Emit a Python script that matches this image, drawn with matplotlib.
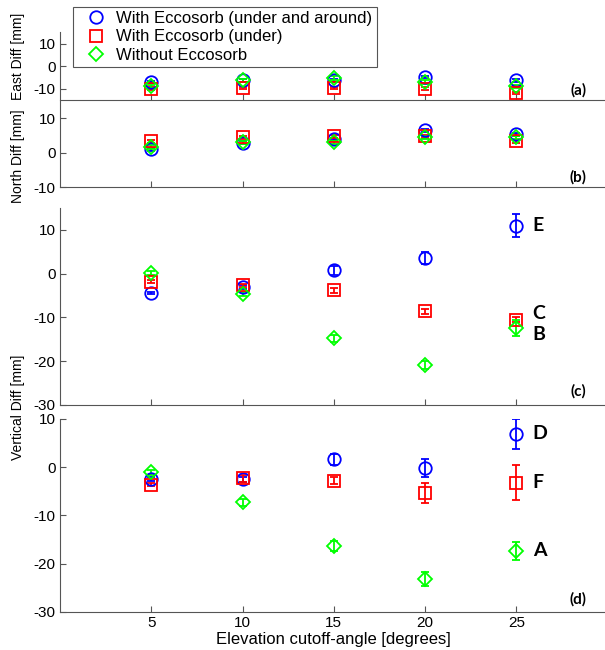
import matplotlib
matplotlib.use('Agg')
import matplotlib.pyplot as plt
from matplotlib.lines import Line2D

plt.rcParams.update({'font.family': ['Liberation Sans', 'DejaVu Sans'], 'font.size': 11,
                     'axes.unicode_minus': False})

# data
angles = [5, 10, 15, 20, 25]
series_names = ['With Eccosorb (under and around)', 'With Eccosorb (under)', 'Without Eccosorb']

east_around = [-7.0, -6.3, -6.3, -4.9, -6.3]
east_under = [-9.9, -9.5, -9.5, -9.9, -11.8]
east_none = [-8.9, -6.3, -5.2, -7.0, -8.9]
east_err_around = [0.5, 0.5, 0.5, 0.5, 0.5]
east_err_under = [0.5, 0.5, 0.5, 0.5, 0.5]
east_err_none = [0.8, 0.8, 0.8, 0.8, 0.8]

north_around = [1.0, 2.9, 4.0, 6.5, 5.4]
north_under = [3.3, 4.5, 4.8, 4.8, 3.3]
north_none = [1.6, 3.0, 3.0, 4.5, 4.5]
north_err_around = [0.4, 0.4, 0.4, 0.4, 0.4]
north_err_under = [0.4, 0.4, 0.4, 0.4, 0.4]
north_err_none = [0.5, 0.5, 0.5, 0.5, 0.5]

vert_c_around = [-4.4, -3.1, 0.8, 3.5, 11.0]
vert_c_under = [-1.8, -2.7, -3.8, -8.6, -10.5]
vert_c_none = [0.15, -4.6, -14.8, -20.9, -12.5]
vert_c_err_around = [0.3, 0.4, 1.0, 1.4, 2.65]
vert_c_err_under = [0.4, 0.4, 0.6, 0.6, 0.6]
vert_c_err_none = [0.5, 0.5, 0.8, 1.0, 1.8]

vert_d_around = [-2.5, -2.5, 1.6, -0.1, 6.9]
vert_d_under = [-3.6, -2.3, -2.8, -5.3, -3.2]
vert_d_none = [-1.1, -7.3, -16.3, -23.2, -17.3]
vert_d_err_around = [0.4, 0.5, 1.15, 1.9, 3.15]
vert_d_err_under = [0.4, 0.7, 0.7, 2.1, 3.6]
vert_d_err_none = [0.5, 0.8, 1.0, 1.5, 1.9]

letters_c = [('E', 10.9), ('C', -9.2), ('B', -14.0)]
letters_d = [('D', 6.9), ('F', -3.2), ('A', -17.3)]

colors = ['#0000ff', '#ff0000', '#00ff00']
markers = ['o', 's', 'D']
msizes = [9, 8, 7.5]

fig = plt.figure(figsize=(6.05, 6.5), dpi=100)
W = 0.905
ax_a = fig.add_axes([0.0992, 0.846, W, 0.104])
ax_b = fig.add_axes([0.0992, 0.7123, W, 0.132])
ax_c = fig.add_axes([0.0992, 0.377, W, 0.303])
ax_d = fig.add_axes([0.0992, 0.0585, W, 0.297])

panels = [
    (ax_a, [east_around, east_under, east_none], [east_err_around, east_err_under, east_err_none], (-15, 15), [-10, 0, 10], '(a)'),
    (ax_b, [north_around, north_under, north_none], [north_err_around, north_err_under, north_err_none], (-10, 15), [-10, 0, 10], '(b)'),
    (ax_c, [vert_c_around, vert_c_under, vert_c_none], [vert_c_err_around, vert_c_err_under, vert_c_err_none], (-30, 15), [-30, -20, -10, 0, 10], '(c)'),
    (ax_d, [vert_d_around, vert_d_under, vert_d_none], [vert_d_err_around, vert_d_err_under, vert_d_err_none], (-30, 10), [-30, -20, -10, 0, 10], '(d)'),
]

for ax, vals, errs, ylim, yt, tag in panels:
    for k in range(3):
        ax.errorbar(angles, vals[k], yerr=errs[k], fmt=markers[k], color=colors[k],
                    mfc='none', mec=colors[k], ms=msizes[k], mew=1.3,
                    elinewidth=1.3, capsize=3, capthick=1.3)
    ax.set_xlim(0, 30)
    ax.set_ylim(*ylim)
    ax.set_yticks(yt)
    ax.set_xticks(angles)
    ax.spines['top'].set_visible(False)
    ax.spines['right'].set_visible(False)
    for s in ['left', 'bottom']:
        ax.spines[s].set_color('#555555')
    ax.tick_params(direction='in', length=4, color='#555555', labelsize=11, pad=3)
    ax.patch.set_alpha(0)
    ax.text(28.4, ylim[0] + 0.03 * (ylim[1] - ylim[0]), tag, ha='center', va='bottom',
            fontsize=11, fontweight='bold', family='Lato')
    if ax is not ax_d:
        ax.tick_params(labelbottom=False)

for txt, y in letters_c:
    ax_c.text(25.9, y, txt, ha='left', va='center', fontsize=14, fontweight='bold', family='Lato')
for txt, y in letters_d:
    ax_d.text(25.9, y, txt, ha='left', va='center', fontsize=14, fontweight='bold', family='Lato')

ax_d.set_xlabel('Elevation cutoff-angle [degrees]', fontsize=12, labelpad=1)

fig.text(0.03, 1 - 56 / 650, 'East Diff [mm]', rotation=90, ha='center', va='center', fontsize=10)
fig.text(0.03, 1 - 156 / 650, 'North Diff [mm]', rotation=90, ha='center', va='center', fontsize=10)
fig.text(0.03, 1 - 407 / 650, 'Vertical Diff [mm]', rotation=90, ha='center', va='center', fontsize=10)

handles = [Line2D([], [], ls='none', marker=markers[k], color=colors[k], mfc='none',
                  ms=msizes[k], mew=1.3, label=series_names[k]) for k in range(3)]
leg = fig.legend(handles=handles, loc='upper left', bbox_to_anchor=(73 / 605, 1 - 7 / 650),
                 borderaxespad=0, fancybox=False, edgecolor='#555555', framealpha=1,
                 fontsize=12, handlelength=2.2, handletextpad=0.15, borderpad=0.25,
                 labelspacing=0.2)
leg.get_frame().set_linewidth(0.8)

fig.savefig('out.png', dpi=100)
